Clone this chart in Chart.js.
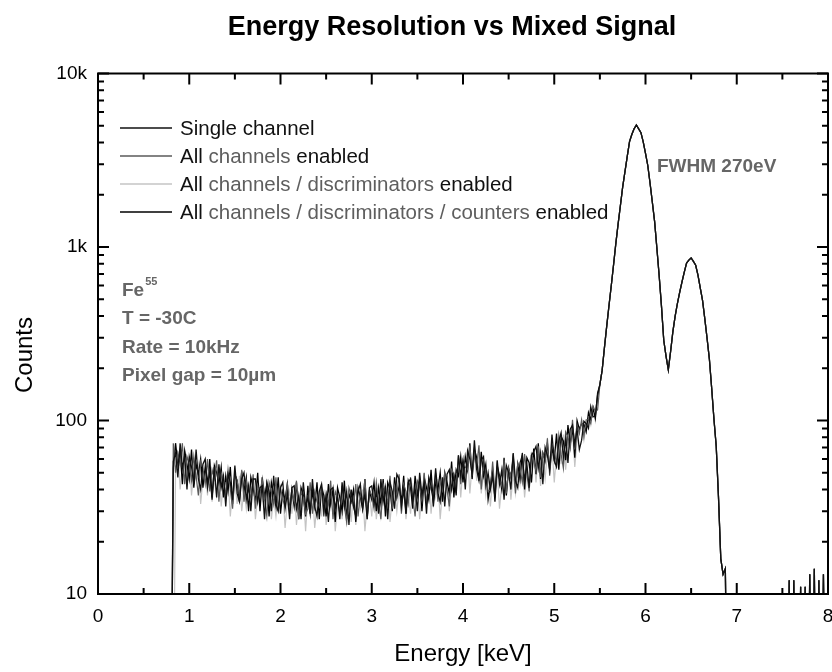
<!DOCTYPE html>
<html>
<head>
<meta charset="utf-8">
<title>Energy Resolution vs Mixed Signal</title>
<script src="https://cdn.jsdelivr.net/npm/chart.js@4.4.1/dist/chart.umd.min.js"></script>
<style>
  html, body { margin: 0; padding: 0; background: #fff; }
  canvas { display: block; }
</style>
</head>
<body>
<canvas id="spectrum" width="832" height="672"></canvas>
<script>
// energy bins, 25 eV wide, from 0.800 to 8.000 keV
const binStart = 0.8;
const binWidth = 0.025;

const xTickValues = [0, 1, 2, 3, 4, 5, 6, 7, 8];
const xTickLabels = ['0', '1', '2', '3', '4', '5', '6', '7', '8'];
const yTickValues = [10, 100, 1000, 10000];
const yTickLabels = ['10', '100', '1k', '10k'];

const seriesNames = [
  'Single channel',
  'All channels enabled',
  'All channels / discriminators enabled',
  'All channels / discriminators / counters enabled'
];

// counts below the 10 count floor (1) sit under the axis
// background part, 0.800 .. 5.475 keV (one row = 0.5 keV)
const singleChannelBg = [
  1, 58, 65, 47, 74, 53, 63, 40, 62, 54, 43, 68, 46, 40, 56, 60, 41, 51, 35, 54,
  36, 56, 41, 48, 32, 49, 44, 35, 55, 38, 34, 46, 50, 35, 42, 30, 46, 46, 34, 41,
  42, 27, 44, 39, 30, 48, 33, 30, 41, 44, 31, 38, 27, 41, 42, 31, 37, 27, 44, 32,
  36, 29, 46, 32, 28, 39, 43, 30, 37, 26, 40, 41, 31, 37, 27, 44, 32, 39, 25, 40,
  32, 28, 39, 43, 31, 38, 27, 41, 42, 33, 39, 29, 46, 34, 41, 27, 44, 39, 31, 49,
  46, 32, 40, 29, 44, 46, 34, 41, 30, 50, 37, 44, 29, 47, 42, 34, 53, 38, 34, 47,
  32, 49, 52, 40, 48, 37, 63, 48, 59, 40, 67, 60, 49, 77, 52, 45, 59, 62, 42, 50,
  40, 48, 36, 59, 43, 52, 35, 55, 50, 40, 65, 45, 41, 57, 63, 45, 56, 41, 63, 66,
  71, 53, 65, 43, 70, 63, 52, 83, 59, 54, 76, 85, 61, 78, 57, 89, 94, 73, 89, 68,
  77, 99, 96, 90, 120, 105, 106, 140
];
const allChannelsBg = [
  1, 74, 50, 65, 56, 74, 43, 62, 56, 45, 62, 48, 37, 58, 53, 43, 60, 39, 52, 46,
  59, 34, 50, 45, 37, 52, 40, 31, 49, 45, 37, 52, 34, 45, 39, 36, 49, 31, 42, 37,
  46, 35, 28, 44, 39, 33, 47, 30, 41, 35, 32, 44, 29, 39, 34, 45, 27, 39, 36, 29,
  31, 44, 29, 39, 34, 32, 43, 28, 38, 33, 45, 27, 39, 36, 29, 42, 32, 26, 41, 37,
  32, 43, 28, 38, 34, 46, 27, 40, 37, 31, 44, 34, 27, 43, 39, 33, 48, 31, 42, 37,
  49, 29, 43, 39, 33, 47, 36, 28, 45, 42, 35, 50, 33, 45, 40, 37, 50, 34, 45, 40,
  50, 40, 32, 52, 49, 42, 63, 43, 59, 54, 52, 72, 48, 64, 55, 72, 40, 57, 50, 39,
  40, 58, 38, 52, 46, 42, 59, 38, 53, 47, 64, 38, 57, 53, 44, 64, 49, 39, 64, 59,
  51, 71, 47, 65, 58, 79, 48, 72, 67, 56, 82, 64, 53, 86, 81, 69, 101, 68, 94, 84,
  101, 81, 101, 101, 96, 121, 113, 115
];
const allDiscriminatorsBg = [
  1, 1, 53, 67, 40, 55, 62, 44, 62, 37, 52, 46, 56, 33, 46, 52, 37, 55, 34, 46,
  37, 52, 32, 44, 39, 47, 28, 40, 45, 33, 48, 30, 40, 31, 42, 34, 45, 27, 37, 42,
  35, 40, 30, 43, 27, 36, 28, 39, 31, 40, 24, 34, 39, 29, 41, 25, 35, 31, 39, 23,
  37, 30, 39, 24, 33, 38, 28, 40, 25, 35, 31, 39, 23, 32, 37, 27, 40, 25, 34, 26,
  40, 25, 35, 31, 40, 23, 33, 38, 28, 42, 27, 36, 28, 39, 31, 43, 26, 36, 41, 30,
  40, 30, 43, 27, 38, 29, 41, 33, 44, 27, 38, 43, 32, 47, 29, 41, 36, 46, 27, 39,
  36, 48, 30, 43, 50, 38, 58, 36, 54, 49, 64, 38, 55, 63, 45, 64, 38, 50, 37, 49,
  32, 46, 40, 52, 31, 43, 51, 37, 56, 35, 49, 38, 54, 43, 58, 36, 50, 58, 44, 64,
  44, 66, 42, 59, 46, 65, 54, 72, 44, 64, 73, 56, 83, 52, 76, 69, 88, 54, 78, 92,
  94, 77, 93, 103, 94, 119, 100, 132
];
const allCountersBg = [
  1, 53, 74, 56, 67, 43, 67, 56, 46, 68, 41, 56, 49, 60, 41, 54, 43, 60, 36, 55,
  50, 43, 54, 36, 48, 39, 54, 33, 49, 45, 34, 51, 39, 47, 30, 47, 41, 34, 50, 30,
  47, 36, 43, 28, 44, 38, 32, 47, 29, 39, 35, 43, 30, 40, 32, 44, 27, 41, 37, 28,
  42, 29, 39, 32, 44, 27, 41, 37, 28, 43, 33, 40, 26, 41, 36, 30, 45, 27, 38, 34,
  40, 26, 41, 36, 31, 46, 28, 39, 35, 44, 30, 41, 33, 46, 28, 44, 40, 30, 47, 36,
  42, 34, 48, 29, 45, 41, 31, 48, 37, 46, 30, 47, 41, 35, 52, 32, 44, 40, 50, 34,
  50, 44, 38, 58, 36, 52, 48, 62, 44, 62, 52, 74, 46, 68, 61, 45, 66, 48, 56, 35,
  43, 52, 34, 55, 48, 40, 61, 37, 53, 47, 60, 41, 56, 46, 65, 40, 61, 57, 44, 69,
  49, 74, 46, 65, 59, 74, 52, 70, 59, 84, 52, 81, 76, 59, 94, 73, 91, 61, 100, 89,
  96, 95, 86, 111, 101, 118, 103, 144
];
// Mn K-alpha / K-beta peaks and tail, 5.500 .. 8.000 keV (same for all four)
const peakCounts = [
  161, 195, 263, 350, 460, 600, 790, 1050, 1360, 1735, 2220, 2720, 3330, 4050, 4450, 4800, 5050, 4800, 4560, 4040,
  3470, 2950, 2330, 1810, 1400, 980, 680, 456, 290, 235, 196, 250, 325, 400, 474, 550, 630, 716, 807, 840,
  865, 826, 785, 689, 582, 493, 385, 297, 226, 154, 102, 71, 36, 16, 13, 14, 1, 1, 1, 1,
  1, 1, 1, 1, 1, 1, 1, 1, 1, 1, 1, 1, 1, 1, 1, 1, 1, 1, 1, 1,
  1, 1, 1, 12, 1, 12, 1, 1, 11, 1, 11, 1, 13, 1, 14, 1, 12, 1, 13, 1,
  1
];

const seriesCounts = [
  singleChannelBg.concat(peakCounts),
  allChannelsBg.concat(peakCounts),
  allDiscriminatorsBg.concat(peakCounts),
  allCountersBg.concat(peakCounts)
];
const seriesColors = ['#111111', '#5a5a5a', '#c4c4c4', '#000000'];
const seriesWidths = [1.3, 1.2, 1.2, 1.3];
const seriesOrder = [0, 1, 3, 2]; // light grey drawn underneath

// legend words, 'g' = grey, 'k' = black
const legendParts = [
  [['Single channel', 'k']],
  [['All ', 'k'], ['channels', 'g'], [' enabled', 'k']],
  [['All ', 'k'], ['channels / discriminators', 'g'], [' enabled', 'k']],
  [['All ', 'k'], ['channels / discriminators / counters', 'g'], [' enabled', 'k']]
];
const infoLines = ['T = -30C', 'Rate = 10kHz', 'Pixel gap = 10\u00b5m'];

const energies = seriesCounts[0].map((_, i) => +(binStart + i * binWidth).toFixed(3));

const FONT = "'Liberation Sans', Arial, Helvetica, sans-serif";
Chart.defaults.font.family = FONT;
Chart.defaults.color = '#000';

const decorations = {
  id: 'decorations',
  afterDatasetsDraw(chart) {
    const { ctx, chartArea: area } = chart;
    const x = chart.scales.x, y = chart.scales.y;
    ctx.save();

    // inward ticks on all four sides
    ctx.strokeStyle = '#000';
    ctx.lineWidth = 2;
    ctx.beginPath();
    for (let v = 0; v <= 8; v += 0.5) {
      const px = x.getPixelForValue(v);
      const len = Number.isInteger(v) ? 11 : 6;
      ctx.moveTo(px, area.bottom); ctx.lineTo(px, area.bottom - len);
      ctx.moveTo(px, area.top); ctx.lineTo(px, area.top + len);
    }
    yTickValues.forEach((dec, d) => {
      for (let m = 1; m <= 9; m++) {
        if (m > 1 && d === yTickValues.length - 1) break;
        const py = y.getPixelForValue(dec * m);
        const len = m === 1 ? 11 : 6;
        ctx.moveTo(area.left, py); ctx.lineTo(area.left + len, py);
        ctx.moveTo(area.right, py); ctx.lineTo(area.right - len, py);
      }
    });
    ctx.stroke();
    ctx.strokeRect(area.left, area.top, area.right - area.left, area.bottom - area.top);

    // title and axis titles
    ctx.fillStyle = '#000';
    ctx.textBaseline = 'alphabetic';
    ctx.textAlign = 'center';
    ctx.font = `bold 27px ${FONT}`;
    ctx.fillText('Energy Resolution vs Mixed Signal', 452, 34.5);
    ctx.font = `24px ${FONT}`;
    ctx.fillText('Energy [keV]', (area.left + area.right) / 2, 661);
    ctx.save();
    ctx.translate(32, 355);
    ctx.rotate(-Math.PI / 2);
    ctx.fillText('Counts', 0, 0);
    ctx.restore();

    // legend inside the plot
    ctx.textAlign = 'left';
    ctx.font = `20.5px ${FONT}`;
    legendParts.forEach((parts, i) => {
      const ly = 128 + i * 28;
      ctx.strokeStyle = chart.data.datasets[i].borderColor;
      ctx.lineWidth = 1.5;
      ctx.beginPath();
      ctx.moveTo(120, ly);
      ctx.lineTo(172, ly);
      ctx.stroke();
      let tx = 180;
      parts.forEach(([text, tone]) => {
        ctx.fillStyle = tone === 'g' ? '#5e5e5e' : '#111';
        ctx.fillText(text, tx, ly + 7.3);
        tx += ctx.measureText(text).width;
      });
    });

    // measurement notes
    ctx.fillStyle = '#666';
    ctx.font = `bold 19px ${FONT}`;
    ctx.fillText('Fe', 122, 295.5);
    const feW = ctx.measureText('Fe').width;
    ctx.font = `bold 11px ${FONT}`;
    ctx.fillText('55', 122 + feW + 1, 285);
    ctx.font = `bold 19px ${FONT}`;
    infoLines.forEach((line, i) => ctx.fillText(line, 122, 324 + i * 28.5));
    ctx.fillText('FWHM 270eV', 657, 172);

    ctx.restore();
  }
};

new Chart(document.getElementById('spectrum'), {
  type: 'line',
  data: {
    datasets: seriesNames.map((name, i) => ({
      label: name,
      data: energies.map((e, j) => ({ x: e, y: seriesCounts[i][j] })),
      borderColor: seriesColors[i],
      borderWidth: seriesWidths[i],
      order: seriesOrder[i],
      pointRadius: 0,
      tension: 0
    }))
  },
  options: {
    responsive: false,
    animation: false,
    events: [],
    layout: { padding: { top: 73.5, right: 4, bottom: 0, left: 0 } },
    plugins: {
      legend: { display: false },
      title: { display: false },
      tooltip: { enabled: false }
    },
    scales: {
      x: {
        type: 'linear',
        min: 0,
        max: 8,
        grid: { display: false, drawTicks: false },
        border: { display: false },
        afterBuildTicks: s => { s.ticks = xTickValues.map(v => ({ value: v })); },
        ticks: {
          padding: 11,
          maxRotation: 0,
          font: { size: 19 },
          callback: (v, i) => xTickLabels[i]
        },
        afterFit: s => { s.height = 78; s.paddingLeft = 0; s.paddingRight = 0; }
      },
      y: {
        type: 'logarithmic',
        min: 10,
        max: 10000,
        grid: { display: false, drawTicks: false },
        border: { display: false },
        afterBuildTicks: s => { s.ticks = yTickValues.map(v => ({ value: v })); },
        ticks: {
          padding: 11,
          font: { size: 19 },
          callback: (v, i) => yTickLabels[i]
        },
        afterFit: s => { s.width = 98; s.paddingTop = 0; s.paddingBottom = 0; }
      }
    }
  },
  plugins: [decorations]
});
</script>
</body>
</html>
